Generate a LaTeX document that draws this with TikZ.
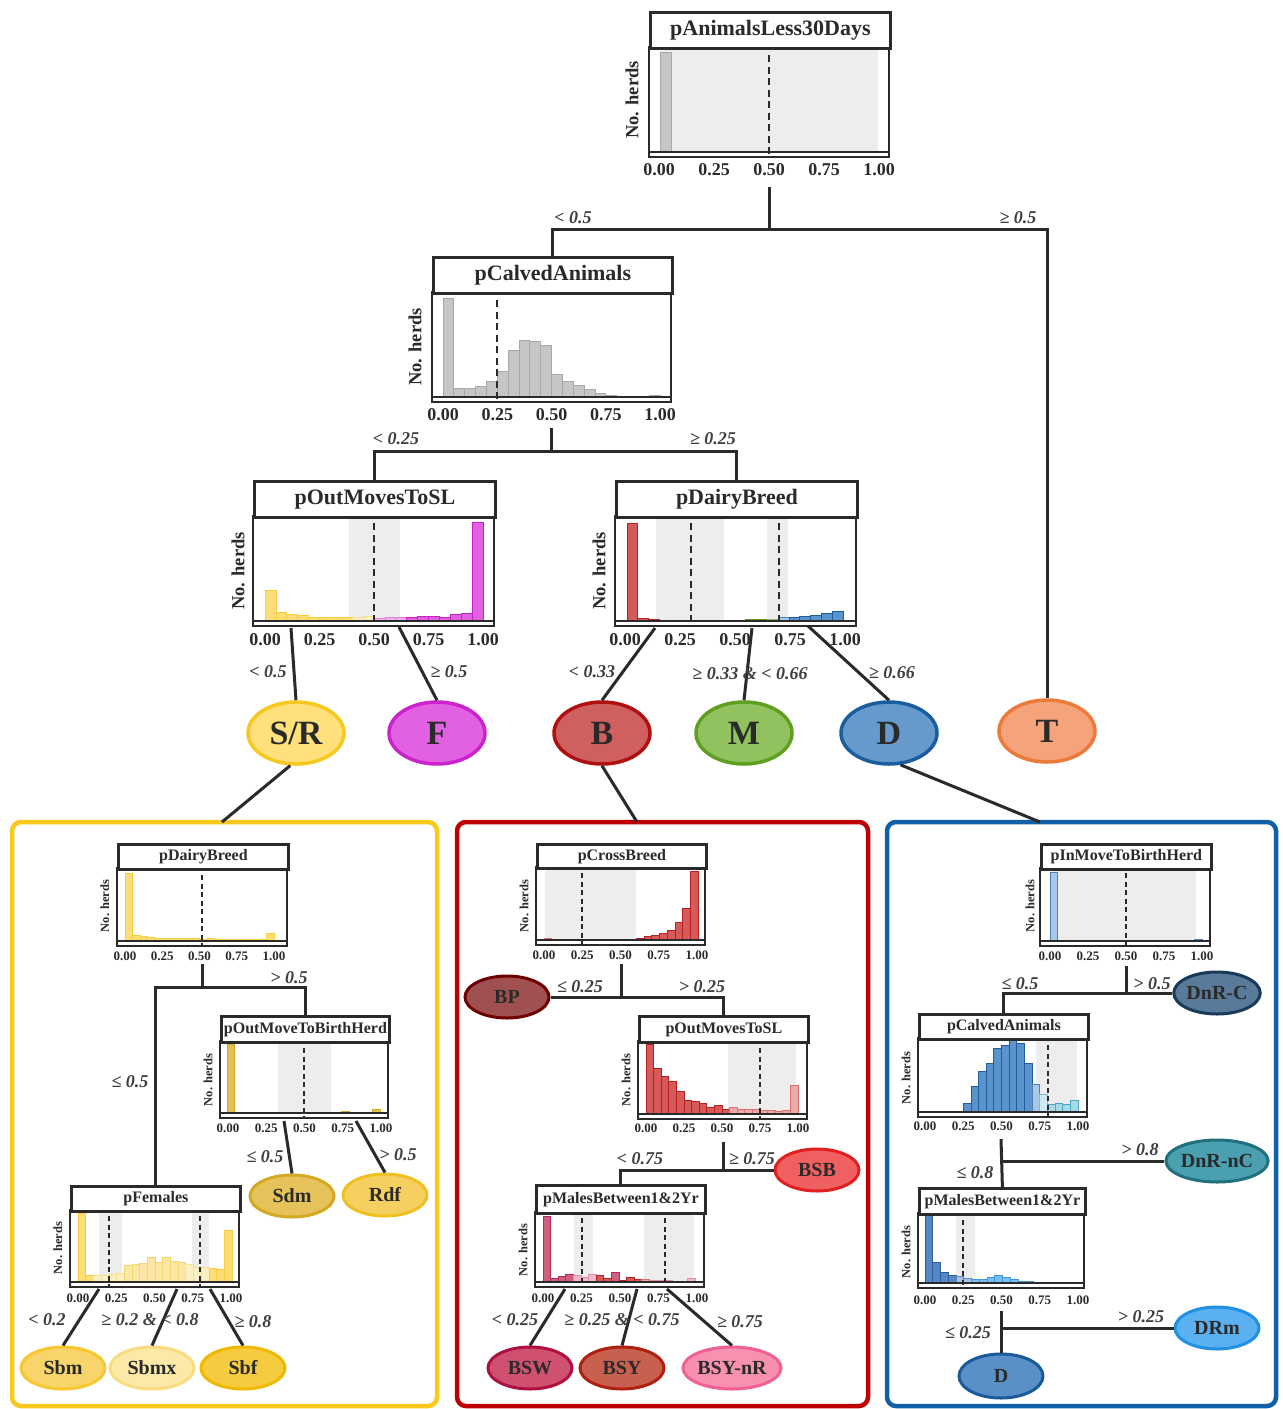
\documentclass[tikz,border=0pt]{standalone}
\usepackage{fontspec}
\setmainfont{Liberation Serif}
\usetikzlibrary{shapes.geometric}
\definecolor{ink}{HTML}{2A2A2A}
\newcommand{\fs}[1]{\fontsize{#1}{#1}\selectfont\bfseries}
\tikzset{
  frame/.style={draw=ink, line width=2.8},
  ttl/.style={draw=ink, line width=2.8, fill=white, inner sep=0, anchor=north west, text=ink},
  conn/.style={draw=ink, line width=3},
  cond/.style={font=\fs{18}\itshape, text=ink!90, inner sep=0},
  tkB/.style={font=\fs{18}, text=ink, inner sep=0},
  tkS/.style={font=\fs{13}, text=ink, inner sep=0},
  ylB/.style={font=\fs{18.5}, text=ink, rotate=90, inner sep=0},
  ylS/.style={font=\fs{12.5}, text=ink, rotate=90, inner sep=0},
  shd/.style={fill=black!7, draw=none},
  dsh/.style={draw=ink, line width=2, dash pattern=on 7pt off 4.5pt},
  dshS/.style={draw=ink, line width=1.5, dash pattern=on 5pt off 3.5pt},
  leafB/.style={ellipse, line width=3.5, minimum width=96, minimum height=62, inner sep=0, font=\fs{34}, text=ink},
  leafS/.style={ellipse, line width=3, minimum width=84, minimum height=42, inner sep=0, font=\fs{20}, text=ink},
  gbox/.style={line width=4.5, rounded corners=9},
  gb/.style={fill={rgb,255:red,198;green,198;blue,198}, draw={rgb,255:red,168;green,168;blue,168}, line width=0.8},
  yb/.style={fill={rgb,255:red,252;green,221;blue,120}, draw={rgb,255:red,247;green,205;blue,60}, line width=0.8},
  ybl/.style={fill={rgb,255:red,253;green,239;blue,196}, draw={rgb,255:red,249;green,223;blue,138}, line width=0.8},
  ym/.style={fill={rgb,255:red,253;green,231;blue,166}, draw={rgb,255:red,248;green,213;blue,104}, line width=0.8},
  ydb/.style={fill={rgb,255:red,227;green,192;blue,85}, draw={rgb,255:red,212;green,168;blue,32}, line width=0.8},
  ydbl/.style={fill={rgb,255:red,240;green,221;blue,160}, draw={rgb,255:red,224;green,192;blue,96}, line width=0.8},
  mb/.style={fill={rgb,255:red,224;green,96;blue,224}, draw={rgb,255:red,200;green,32;blue,200}, line width=0.8},
  mbl/.style={fill={rgb,255:red,240;green,176;blue,240}, draw={rgb,255:red,224;green,128;blue,224}, line width=0.8},
  rb/.style={fill={rgb,255:red,214;green,90;blue,90}, draw={rgb,255:red,184;green,32;blue,32}, line width=0.8},
  rbl/.style={fill={rgb,255:red,236;green,170;blue,170}, draw={rgb,255:red,220;green,112;blue,112}, line width=0.8},
  pb/.style={fill={rgb,255:red,208;green,96;blue,128}, draw={rgb,255:red,184;green,40;blue,88}, line width=0.8},
  pbl/.style={fill={rgb,255:red,240;green,184;blue,200}, draw={rgb,255:red,224;green,144;blue,168}, line width=0.8},
  gnb/.style={fill={rgb,255:red,128;green,187;blue,64}, draw={rgb,255:red,90;green,154;blue,32}, line width=0.8},
  gnbl/.style={fill={rgb,255:red,192;green,221;blue,160}, draw={rgb,255:red,144;green,192;blue,96}, line width=0.8},
  bb/.style={fill={rgb,255:red,91;green,147;blue,204}, draw={rgb,255:red,31;green,94;blue,158}, line width=0.8},
  bbl/.style={fill={rgb,255:red,168;green,200;blue,232}, draw={rgb,255:red,80;green,128;blue,184}, line width=0.8},
  cb/.style={fill={rgb,255:red,168;green,218;blue,230}, draw={rgb,255:red,72;green,168;blue,192}, line width=0.8},
  cbl/.style={fill={rgb,255:red,205;green,232;blue,240}, draw={rgb,255:red,124;green,192;blue,208}, line width=0.8},
  sb/.style={fill={rgb,255:red,85;green,136;blue,196}, draw={rgb,255:red,42;green,94;blue,158}, line width=0.8},
  sbl/.style={fill={rgb,255:red,168;green,196;blue,228}, draw={rgb,255:red,90;green,136;blue,192}, line width=0.8},
  lb/.style={fill={rgb,255:red,124;green,189;blue,242}, draw={rgb,255:red,58;green,152;blue,230}, line width=0.8},
}
% bars: #1 x0, #2 x1, #3 base y, #4 max height, #5 list h/style
\newcommand{\hbars}[5]{%
  \foreach \bh/\bst [count=\bi from 0] in {#5} {
    \draw[\bst] ({#1+\bi*(#2-#1)/20},#3) rectangle ({#1+(\bi+1)*(#2-#1)/20},{#3-\bh*#4});
  }%
}
% frame: #1 x1, #2 x2, #3 ydiv, #4 ybot
\newcommand{\pframe}[4]{%
  \draw[frame] (#1,#3) rectangle (#2,#4);
  \draw[draw=ink, line width=1.6] (#1,#4-5) -- (#2,#4-5);
}
% title: #1 name, #2 x1, #3 x2, #4 ytop, #5 ydiv, #6 font size, #7 text
\newcommand{\ptitle}[7]{%
  \node[ttl, minimum width=#3-#2, minimum height=#5-#4, font=\fs{#6}] (#1) at (#2,#4) {#7};
}
% ticks: #1 name, #2 x0, #3 x1, #4 y, #5 style
\newcommand{\pticks}[5]{%
  \foreach \vv/\lab [count=\kk] in {0/0.00,0.25/0.25,0.5/0.50,0.75/0.75,1/1.00}
    \node[#5] (#1k\kk) at ({#2+\vv*(#3-#2)},#4) {\lab};
}
\begin{document}
\begin{tikzpicture}[x=1pt,y=-1pt]
\useasboundingbox (0,0) rectangle (1283,1409);
\fill[white] (0,0) rectangle (1283,1409);

% ================= P1 pAnimalsLess30Days
\fill[shd] (660,50) rectangle (878,152);
\draw[gb] (660,152) rectangle (671,52);
\draw[dsh] (769,55) -- (769,157);
\pframe{649}{889}{47}{157}
\ptitle{P1}{649}{889}{11}{47}{22}{pAnimalsLess30Days}
\pticks{P1}{659}{879}{170}{tkB}
\node[ylB] (P1y) at (632,100) {No. herds};

% ================= P2 pCalvedAnimals
\hbars{443}{660}{397}{99}{1/gb,.09/gb,.09/gb,.11/gb,.16/gb,.26/gb,.47/gb,.57/gb,.56/gb,.52/gb,.23/gb,.16/gb,.12/gb,.08/gb,.04/gb,.02/gb,.01/gb,0/gb,0/gb,.02/gb}
\draw[dsh] (497,300) -- (497,402);
\pframe{432}{671}{292}{402}
\ptitle{P2}{432}{671}{256}{292}{22}{pCalvedAnimals}
\pticks{P2}{443}{660}{415}{tkB}
\node[ylB] (P2y) at (415,347) {No. herds};

% ================= P3 pOutMovesToSL
\fill[shd] (349,519) rectangle (400,621);
\hbars{265}{483}{621}{99}{.31/yb,.09/yb,.07/yb,.06/yb,.04/yb,.04/yb,.04/yb,.04/yb,.04/ybl,.05/ybl,.03/mbl,.04/mbl,.04/mbl,.04/mb,.05/mb,.05/mb,.04/mb,.07/mb,.08/mb,1/mb}
\draw[dsh] (374,523) -- (374,626);
\pframe{253}{494}{516}{626}
\ptitle{P3}{253}{494}{480}{516}{22}{pOutMovesToSL}
\pticks{P3}{265}{483}{640}{tkB}
\node[ylB] (P3y) at (238,571) {No. herds};

% ================= P4 pDairyBreed
\fill[shd] (656,519) rectangle (724,621);
\fill[shd] (767,519) rectangle (788,621);
\hbars{627}{843}{621}{98}{1/rb,.03/rb,.012/rb,.008/rbl,.006/rbl,.005/rbl,.005/rbl,.005/rbl,.005/rbl,.008/gnb,.01/gnb,.012/gnb,.015/gnb,.02/gnbl,.035/bbl,.04/bb,.05/bb,.06/bb,.08/bb,.1/bb}
\draw[dsh] (691,523) -- (691,626);
\draw[dsh] (779,523) -- (779,626);
\pframe{615}{856}{516}{626}
\ptitle{P4}{615}{856}{480}{516}{22}{pDairyBreed}
\pticks{P4}{625}{845}{640}{tkB}
\node[ylB] (P4y) at (599,571) {No. herds};

% ================= top leaves
\node[leafB, fill={rgb,255:red,255;green,224;blue,122}, draw={rgb,255:red,247;green,200;blue,30}] (eSR) at (296,733) {S/R};
\node[leafB, fill={rgb,255:red,226;green,96;blue,226}, draw={rgb,255:red,204;green,34;blue,204}] (eF) at (437,733) {F};
\node[leafB, fill={rgb,255:red,208;green,96;blue,96}, draw={rgb,255:red,176;green,16;blue,16}] (eB) at (602,733) {B};
\node[leafB, fill={rgb,255:red,146;green,194;blue,96}, draw={rgb,255:red,96;green,160;blue,32}] (eM) at (744,733) {M};
\node[leafB, fill={rgb,255:red,102;green,153;blue,204}, draw={rgb,255:red,26;green,94;blue,160}] (eD) at (889,733) {D};
\node[leafB, fill={rgb,255:red,244;green,163;blue,122}, draw={rgb,255:red,238;green,122;blue,58}] (eT) at (1047,731) {T};

% ================= top connectors
\coordinate (p1o) at (769,187);
\coordinate (j1) at (769,229);
\draw[conn] (p1o) -- (j1);
\draw[conn] (P2.north) |- (j1) -| (eT.north);
\coordinate (p2o) at (551,428);
\coordinate (j2) at (551,451);
\draw[conn] (p2o) -- (j2);
\draw[conn] (P3.north) |- (j2) -| (P4.north);
\coordinate (p3a) at (291,628);
\coordinate (p3b) at (399,627);
\draw[conn] (p3a) -- (eSR.north);
\draw[conn] (p3b) -- (eF.north);
\coordinate (p4a) at (655,628);
\coordinate (p4b) at (752,628);
\coordinate (p4c) at (808,626);
\draw[conn] (p4a) -- (eB.north);
\draw[conn] (p4b) -- (eM.north);
\draw[conn] (p4c) -- (eD.north);

\node[cond] (c1) at (573,218) {< 0.5};
\node[cond] (c2) at (1018,218) {≥ 0.5};
\node[cond] (c3) at (396,439) {< 0.25};
\node[cond] (c4) at (713,439) {≥ 0.25};
\node[cond] (c5) at (268,672) {< 0.5};
\node[cond] (c6) at (449,672) {≥ 0.5};
\node[cond] (c7) at (592,672) {< 0.33};
\node[cond] (c8) at (750,674) {≥ 0.33 \& < 0.66};
\node[cond] (c9) at (892,673) {≥ 0.66};

% ================= group boxes
\draw[gbox, draw={rgb,255:red,249;green,201;blue,30}] (12,822) rectangle (437,1406);
\draw[gbox, draw={rgb,255:red,192;green,0;blue,0}] (457,822) rectangle (868,1406);
\draw[gbox, draw={rgb,255:red,16;green,96;blue,168}] (887,822) rectangle (1276,1406);
\coordinate (ybx) at (222,822);
\coordinate (rbx) at (637,822);
\coordinate (bbx) at (1040,822);
\draw[conn] (eSR.260) -- (ybx);
\draw[conn] (eB.south) -- (rbx);
\draw[conn] (eD.290) -- (bbx);

% ================= YELLOW
% Y1 pDairyBreed
\hbars{125}{274}{941}{68}{1/yb,.08/yb,.065/yb,.05/yb,.045/yb,.04/yb,.04/yb,.04/yb,.035/yb,.035/yb,.03/yb,.035/yb,.03/yb,.025/yb,.02/yb,.02/yb,.02/yb,.02/yb,.025/yb,.11/yb}
\draw[dshS] (202,875) -- (202,946);
\pframe{117}{287}{868}{946}
\ptitle{Y1}{117}{287}{843}{868}{16}{pDairyBreed}
\pticks{Y1}{125}{274}{956}{tkS}
\node[ylS] (Y1y) at (105,906) {No. herds};
% Y2 pOutMoveToBirthHerd
\fill[shd] (278,1044) rectangle (331,1113);
\hbars{227}{380}{1113}{69}{1/ydb,.01/ydb,.005/ydb,.01/ydb,.005/ydb,.01/ydb,.005/ydbl,.005/ydbl,.005/ydbl,.01/ydbl,.005/ydbl,.01/ydbl,.005/ydbl,.005/ydbl,.01/ydb,.02/ydb,.01/ydb,.015/ydb,.01/ydb,.05/ydb}
\draw[dshS] (304,1048) -- (304,1118);
\pframe{220}{388}{1041}{1118}
\ptitle{Y2}{220}{388}{1015}{1041}{16}{pOutMoveToBirthHerd}
\pticks{Y2}{228}{381}{1128}{tkS}
\node[ylS] (Y2y) at (208,1080) {No. herds};
% Y3 pFemales
\fill[shd] (99,1213) rectangle (122,1282);
\fill[shd] (192,1213) rectangle (209,1282);
\hbars{78}{232}{1282}{69}{1/yb,.10/yb,.10/ybl,.10/ybl,.11/ybl,.13/ybl,.24/ym,.25/ym,.27/ym,.35/ym,.29/ym,.36/ym,.30/ym,.28/ym,.25/ybl,.21/ybl,.21/ybl,.20/yb,.19/yb,.75/yb}
\draw[dshS] (109,1216) -- (109,1287);
\draw[dshS] (200,1216) -- (200,1287);
\pframe{70}{239}{1210}{1287}
\ptitle{Y3}{70}{239}{1185}{1210}{16}{pFemales}
\pticks{Y3}{78}{231}{1298}{tkS}
\node[ylS] (Y3y) at (58,1248) {No. herds};
% yellow leaves
\node[leafS, fill={rgb,255:red,229;green,195;blue,90}, draw={rgb,255:red,212;green,168;blue,32}] (eSdm) at (292,1196) {Sdm};
\node[leafS, fill={rgb,255:red,245;green,208;blue,96}, draw={rgb,255:red,240;green,192;blue,32}] (eRdf) at (385,1195) {Rdf};
\node[leafS, fill={rgb,255:red,247;green,213;blue,106}, draw={rgb,255:red,245;green,200;blue,48}] (eSbm) at (63,1368) {Sbm};
\node[leafS, fill={rgb,255:red,252;green,233;blue,168}, draw={rgb,255:red,248;green,220;blue,128}] (eSbmx) at (152,1368) {Sbmx};
\node[leafS, fill={rgb,255:red,245;green,204;blue,64}, draw={rgb,255:red,240;green,184;blue,0}] (eSbf) at (243,1368) {Sbf};
% yellow connectors
\coordinate (y1o) at (202,964);
\coordinate (y1j) at (202,987);
\draw[conn] (y1o) -- (y1j);
\draw[conn] (Y3.north) |- (y1j) -| (Y2.north);
\coordinate (y2a) at (284,1121);
\coordinate (y2b) at (356,1121);
\draw[conn] (y2a) -- (eSdm.north);
\draw[conn] (y2b) -- (eRdf.north);
\coordinate (y3a) at (99,1289);
\coordinate (y3b) at (177,1289);
\coordinate (y3c) at (210,1289);
\draw[conn] (y3a) -- (eSbm.north);
\draw[conn] (y3b) -- (eSbmx.north);
\draw[conn] (y3c) -- (eSbf.north);
\node[cond] (c10) at (289,978) {> 0.5};
\node[cond] (c11) at (130,1082) {≤ 0.5};
\node[cond] (c12) at (265,1157) {≤ 0.5};
\node[cond] (c13) at (398,1155) {> 0.5};
\node[cond] (c14) at (47,1320) {< 0.2};
\node[cond] (c15) at (150,1320) {≥ 0.2 \& < 0.8};
\node[cond] (c16) at (253,1322) {≥ 0.8};

% ================= RED
% R1 pCrossBreed
\fill[shd] (545,870) rectangle (636,940);
\hbars{544}{698}{940}{69}{.03/rbl,.01/rbl,.01/rbl,.01/rbl,.01/rbl,.01/rbl,.01/rbl,.01/rbl,.01/rbl,.01/rbl,.015/rbl,.015/rbl,.03/rb,.05/rb,.07/rb,.09/rb,.14/rb,.25/rb,.46/rb,1/rb}
\draw[dshS] (582,873) -- (582,945);
\pframe{536}{705}{867}{945}
\ptitle{R1}{536}{705}{843}{867}{16}{pCrossBreed}
\pticks{R1}{544}{697}{955}{tkS}
\node[ylS] (R1y) at (524,906) {No. herds};
% R2 pOutMovesToSL
\fill[shd] (728,1044) rectangle (796,1114);
\hbars{646}{798}{1114}{70}{1/rb,.65/rb,.54/rb,.47/rb,.33/rb,.20/rb,.18/rb,.15/rb,.10/rb,.13/rb,.06/rb,.09/rbl,.07/rbl,.06/rbl,.06/rbl,.05/rbl,.05/rbl,.04/rbl,.05/rbl,.41/rbl}
\draw[dshS] (760,1048) -- (760,1119);
\pframe{638}{807}{1041}{1119}
\ptitle{R2}{638}{807}{1015}{1041}{16}{pOutMovesToSL}
\pticks{R2}{646}{798}{1128}{tkS}
\node[ylS] (R2y) at (626,1080) {No. herds};
% R3 pMalesBetween1&2Yr
\fill[shd] (574,1215) rectangle (593,1282);
\fill[shd] (644,1215) rectangle (694,1282);
\hbars{543}{695}{1282}{66}{1/pb,.06/pb,.08/pb,.12/pb,.10/pbl,.07/pbl,.12/pbl,.10/rb,.06/rb,.15/pb,.03/rb,.07/rb,.04/rb,.04/rbl,.03/pbl,.02/pbl,.02/pbl,.01/pbl,.01/pbl,.06/pbl}
\draw[dshS] (582,1218) -- (582,1287);
\draw[dshS] (665,1218) -- (665,1287);
\pframe{535}{704}{1212}{1287}
\ptitle{R3}{535}{704}{1184}{1212}{16}{pMalesBetween1\&2Yr}
\pticks{R3}{543}{697}{1298}{tkS}
\node[ylS] (R3y) at (523,1250) {No. herds};
% red leaves
\node[leafS, fill={rgb,255:red,160;green,80;blue,80}, draw={rgb,255:red,112;green,0;blue,0}] (eBP) at (507,997) {BP};
\node[leafS, fill={rgb,255:red,240;green,96;blue,96}, draw={rgb,255:red,224;green,32;blue,32}] (eBSB) at (817,1170) {BSB};
\node[leafS, fill={rgb,255:red,208;green,80;blue,112}, draw={rgb,255:red,176;green,16;blue,64}] (eBSW) at (530,1368) {BSW};
\node[leafS, fill={rgb,255:red,200;green,96;blue,80}, draw={rgb,255:red,176;green,32;blue,16}] (eBSY) at (622,1368) {BSY};
\node[leafS, minimum width=88, fill={rgb,255:red,248;green,144;blue,176}, draw={rgb,255:red,240;green,96;blue,144}] (eBSYnR) at (732,1368) {BSY-nR};
% red connectors
\coordinate (r1o) at (621,964);
\coordinate (r1j) at (621,997);
\draw[conn] (r1o) -- (r1j);
\draw[conn] (eBP.east) -- (r1j) -| (R2.north);
\coordinate (r2o) at (723,1142);
\coordinate (r2j) at (723,1170);
\draw[conn] (r2o) -- (r2j);
\draw[conn] (R3.north) |- (r2j) -- (eBSB.west);
\coordinate (r3a) at (565,1289);
\coordinate (r3b) at (637,1289);
\coordinate (r3c) at (667,1289);
\draw[conn] (r3a) -- (eBSW.north);
\draw[conn] (r3b) -- (eBSY.north);
\draw[conn] (r3c) -- (eBSYnR.north);
\node[cond] (c17) at (580,987) {≤ 0.25};
\node[cond] (c18) at (702,987) {> 0.25};
\node[cond] (c19) at (640,1159) {< 0.75};
\node[cond] (c20) at (752,1159) {≥ 0.75};
\node[cond] (c21) at (515,1320) {< 0.25};
\node[cond] (c22) at (622,1320) {≥ 0.25 \& < 0.75};
\node[cond] (c23) at (740,1322) {≥ 0.75};

% ================= BLUE
% B1 pInMoveToBirthHerd
\fill[shd] (1050,871) rectangle (1196,941);
\hbars{1050}{1202}{941}{69}{1/bbl,0/bbl,0/bbl,0/bbl,0/bbl,0/bbl,0/bbl,0/bbl,0/bbl,0/bbl,0/bbl,0/bbl,0/bbl,0/bbl,0/bbl,0/bbl,0/bbl,0/bbl,0/bbl,.03/bbl}
\draw[dshS] (1126,873) -- (1126,946);
\pframe{1040}{1210}{868}{946}
\ptitle{B1}{1040}{1210}{843}{868}{16}{pInMoveToBirthHerd}
\pticks{B1}{1050}{1202}{956}{tkS}
\node[ylS] (B1y) at (1030,906) {No. herds};
% B2 pCalvedAnimals
\fill[shd] (1036,1041) rectangle (1077,1112);
\hbars{925}{1078}{1112}{72}{0/bb,0/bb,0/bb,0/bb,0/bb,.12/bb,.35/bb,.57/bb,.67/bb,.88/bb,.93/bb,1/bb,.95/bb,.67/bb,.39/bbl,.25/cbl,.11/cb,.12/cb,.1/cb,.16/cb}
\draw[dshS] (1048,1045) -- (1048,1117);
\pframe{918}{1087}{1038}{1117}
\ptitle{B2}{918}{1087}{1013}{1038}{16}{pCalvedAnimals}
\pticks{B2}{925}{1078}{1126}{tkS}
\node[ylS] (B2y) at (906,1078) {No. herds};
% B3 pMalesBetween1&2Yr
\fill[shd] (956,1216) rectangle (975,1283);
\hbars{925}{1080}{1283}{68}{1/sb,.31/sb,.16/sb,.11/sb,.09/sbl,.07/sbl,.06/lb,.06/lb,.08/lb,.11/lb,.08/lb,.05/lb,.03/lb,.02/lb,.01/lb,0/lb,0/lb,0/lb,0/lb,0/lb}
\draw[dshS] (963,1220) -- (963,1288);
\pframe{918}{1084}{1213}{1288}
\ptitle{B3}{918}{1084}{1187}{1213}{16}{pMalesBetween1\&2Yr}
\pticks{B3}{925}{1078}{1300}{tkS}
\node[ylS] (B3y) at (906,1252) {No. herds};
% blue leaves
\node[leafS, fill={rgb,255:red,90;green,122;blue,154}, draw={rgb,255:red,26;green,58;blue,90}] (eDnRC) at (1217,993) {DnR-C};
\node[leafS, fill={rgb,255:red,74;green,160;blue,176}, draw={rgb,255:red,32;green,112;blue,128}] (eDnRnC) at (1217,1161) {DnR-nC};
\node[leafS, fill={rgb,255:red,90;green,176;blue,240}, draw={rgb,255:red,32;green,144;blue,224}] (eDRm) at (1217,1328) {DRm};
\node[leafS, minimum height=44, fill={rgb,255:red,90;green,144;blue,200}, draw={rgb,255:red,26;green,90;blue,152}] (eD2) at (1001,1376) {D};
% blue connectors
\coordinate (b1o) at (1126,966);
\coordinate (b1j) at (1126,993);
\draw[conn] (b1o) -- (b1j);
\draw[conn] (B2.north) |- (b1j) -- (eDnRC.west);
\coordinate (b2o) at (1001,1139);
\coordinate (b2j) at (1001,1161);
\draw[conn] (b2o) -- (B3.north);
\draw[conn] (b2j) -- (eDnRnC.west);
\coordinate (b3o) at (1001,1311);
\coordinate (b3j) at (1001,1328);
\draw[conn] (b3o) -- (eD2.north);
\draw[conn] (b3j) -- (eDRm.west);
\node[cond] (c24) at (1020,984) {≤ 0.5};
\node[cond] (c25) at (1152,984) {> 0.5};
\node[cond] (c26) at (1140,1150) {> 0.8};
\node[cond] (c27) at (975,1173) {≤ 0.8};
\node[cond] (c28) at (1141,1317) {> 0.25};
\node[cond] (c29) at (968,1333) {≤ 0.25};
\end{tikzpicture}
\end{document}
